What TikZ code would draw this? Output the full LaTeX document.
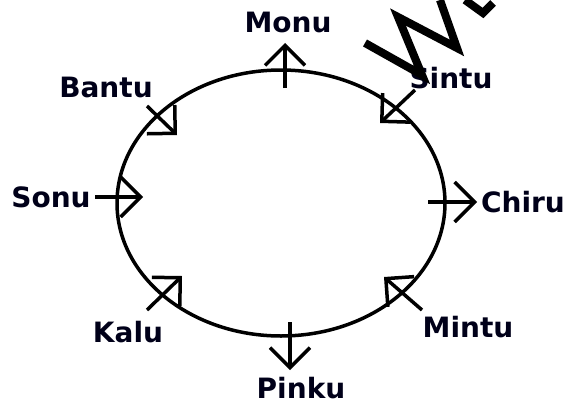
\documentclass[tikz,border=0pt]{standalone}
\usepackage{fontspec}
\setmainfont{DejaVu Sans}
\usetikzlibrary{arrows.meta}
\begin{document}
\begin{tikzpicture}[x=1pt,y=-1pt,
    who/.style={anchor=base,inner sep=0pt,text=black!90!blue,
      font=\fontsize{28}{30}\selectfont\bfseries},
    face/.style={line width=3.5pt,-{Straight Barb[length=20pt,width=40pt,line width=3.5pt]}}]
  \useasboundingbox (0,0) rectangle (572,404);
  % Round table
  \draw[line width=3.5pt] (281,203) ellipse (164pt and 133pt);
  % Facing outward
  \draw[face] (285,88) -- (285,43);
  \draw[face] (290,322) -- (290,370);
  \draw[face] (428,202) -- (477,202);
  % Facing the centre
  \draw[face] (95,197) -- (143,197);
  \draw[face] (147,106) -- (177,135);
  \draw[face] (415,90) -- (380,123);
  \draw[face] (147,310) -- (182,276);
  \draw[face] (422,310) -- (384,277);
  % Names
  \node[who] (monu)  at (288,33)  {Monu};
  \node[who] (bantu) at (106,97)  {Bantu};
  \node[who] (sintu) at (451,88)  {Sintu};
  \node[who] (sonu)  at (51,207)  {Sonu};
  \node[who] (chiru) at (523,212) {Chiru};
  \node[who] (kalu)  at (128,342) {Kalu};
  \node[who] (mintu) at (468,337) {Mintu};
  \node[who] (pinku) at (301,398) {Pinku};
  % Watermark strokes
  \draw[line width=8pt,line join=miter] (365,43) -- (422,75) -- (398,17)
    -- (457,48) -- (440,0);
  \draw[line width=8pt,line join=miter] (465,0) -- (483,13) -- (493,3);
\end{tikzpicture}
\end{document}
